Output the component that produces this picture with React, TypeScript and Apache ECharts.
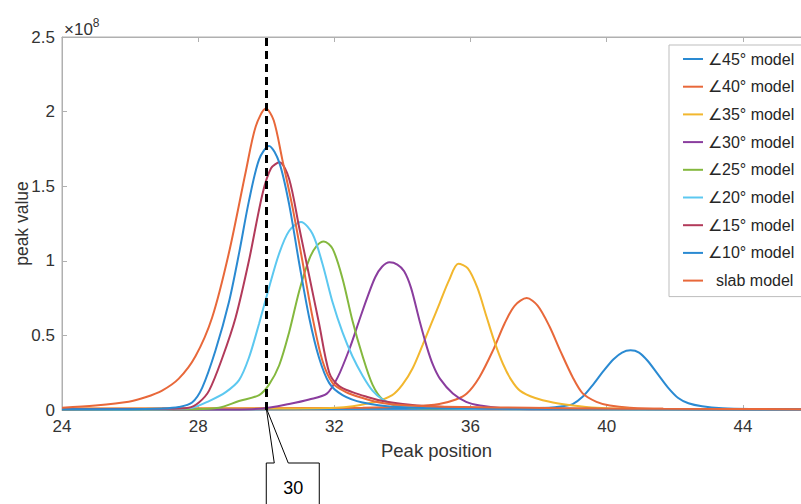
import React, { useEffect, useRef } from "react";
import * as echarts from "echarts";

const legendNames = ["∠45° model", "∠40° model", "∠35° model", "∠30° model", "∠25° model", "∠20° model", "∠15° model", "∠10° model", "slab model"];
const colors = ["#2A8AD2", "#E8683A", "#F2B72E", "#8A3D9E", "#84B83E", "#5CC8F0", "#B23A5A", "#2A8AD2", "#E8683A"];

// peak value in units of 1e8
const deg45: [number, number][] = [[24, 0.005], [36.75, 0.008], [38.3, 0.015], [38.7, 0.025], [39.0, 0.04], [39.3, 0.09], [39.6, 0.17], [39.9, 0.26], [40.2, 0.34], [40.45, 0.385], [40.7, 0.4], [40.95, 0.385], [41.2, 0.33], [41.5, 0.24], [41.8, 0.15], [42.1, 0.08], [42.4, 0.045], [42.8, 0.025], [43.4, 0.012], [44.2, 0.007], [46, 0.005]];
const deg40: [number, number][] = [[24, 0.01], [32.83, 0.015], [34.3, 0.025], [35.08, 0.04], [35.57, 0.07], [35.89, 0.11], [36.26, 0.22], [36.66, 0.4], [37.0, 0.58], [37.3, 0.7], [37.65, 0.75], [37.97, 0.7], [38.32, 0.56], [38.63, 0.4], [39.0, 0.22], [39.3, 0.11], [39.7, 0.055], [40.09, 0.03], [40.68, 0.015], [41.66, 0.008], [46, 0.005]];
const deg35: [number, number][] = [[24, 0.008], [29.89, 0.01], [32.04, 0.015], [33.12, 0.05], [33.7, 0.1], [34.0, 0.17], [34.3, 0.28], [34.6, 0.44], [34.85, 0.58], [35.1, 0.72], [35.37, 0.87], [35.64, 0.98], [35.92, 0.95], [36.2, 0.82], [36.47, 0.625], [36.7, 0.46], [36.95, 0.31], [37.2, 0.2], [37.45, 0.13], [37.9, 0.08], [38.42, 0.05], [39.01, 0.03], [39.7, 0.015], [40.68, 0.008], [46, 0.005]];
const deg30: [number, number][] = [[24, 0.002], [28.9, 0.004], [29.89, 0.01], [30.67, 0.04], [31.26, 0.07], [31.78, 0.11], [32.1, 0.22], [32.46, 0.42], [32.73, 0.6], [32.96, 0.75], [33.2, 0.89], [33.4, 0.96], [33.62, 0.99], [33.85, 0.975], [34.05, 0.93], [34.25, 0.82], [34.5, 0.6], [34.72, 0.42], [34.9, 0.3], [35.1, 0.21], [35.48, 0.11], [35.87, 0.055], [36.28, 0.03], [36.95, 0.012], [37.73, 0.005], [46, 0.002]];
const deg25: [number, number][] = [[24, 0.002], [27.92, 0.005], [28.61, 0.015], [29.2, 0.06], [29.79, 0.1], [30.08, 0.17], [30.38, 0.3], [30.67, 0.52], [30.97, 0.8], [31.26, 1.01], [31.48, 1.1], [31.69, 1.13], [31.95, 1.08], [32.24, 0.88], [32.53, 0.6], [32.83, 0.36], [33.12, 0.17], [33.42, 0.07], [33.81, 0.03], [34.79, 0.01], [46, 0.003]];
const deg20: [number, number][] = [[24, 0.003], [26.94, 0.005], [27.82, 0.015], [28.32, 0.06], [28.81, 0.12], [29.2, 0.2], [29.49, 0.35], [29.79, 0.58], [30.08, 0.82], [30.38, 1.05], [30.67, 1.2], [31.02, 1.26], [31.36, 1.18], [31.65, 0.98], [31.95, 0.72], [32.24, 0.52], [32.53, 0.36], [32.83, 0.23], [33.12, 0.13], [33.42, 0.07], [33.81, 0.035], [34.79, 0.015], [36.75, 0.006], [46, 0.003]];
const deg15: [number, number][] = [[24, 0.005], [26.94, 0.008], [27.72, 0.015], [28.02, 0.05], [28.32, 0.13], [28.71, 0.35], [29.1, 0.62], [29.49, 1.0], [29.89, 1.45], [30.14, 1.62], [30.39, 1.66], [30.67, 1.55], [30.97, 1.22], [31.26, 0.9], [31.55, 0.58], [31.85, 0.25], [32.14, 0.16], [32.53, 0.12], [32.93, 0.09], [33.42, 0.06], [34.01, 0.04], [34.79, 0.025], [36.75, 0.01], [46, 0.005]];
const deg10: [number, number][] = [[24, 0.005], [25.96, 0.005], [26.94, 0.01], [27.43, 0.02], [27.82, 0.05], [28.12, 0.15], [28.51, 0.4], [28.9, 0.72], [29.2, 1.05], [29.49, 1.4], [29.79, 1.68], [30.08, 1.77], [30.38, 1.66], [30.67, 1.38], [30.97, 0.98], [31.26, 0.62], [31.55, 0.35], [31.85, 0.18], [32.24, 0.1], [32.83, 0.05], [33.81, 0.02], [35.77, 0.01], [46, 0.005]];
const slab: [number, number][] = [[24, 0.015], [24.98, 0.03], [25.96, 0.055], [26.45, 0.085], [26.94, 0.13], [27.43, 0.21], [27.92, 0.36], [28.41, 0.62], [28.9, 1.05], [29.4, 1.6], [29.69, 1.9], [29.99, 2.02], [30.22, 1.94], [30.47, 1.68], [30.77, 1.36], [31.06, 1.0], [31.36, 0.62], [31.65, 0.33], [31.95, 0.18], [32.34, 0.12], [32.83, 0.08], [33.32, 0.05], [33.81, 0.035], [34.79, 0.025], [35.77, 0.02], [37.73, 0.015], [39.7, 0.01], [41.66, 0.008], [46, 0.005]];

const seriesData = [deg45, deg40, deg35, deg30, deg25, deg20, deg15, deg10, slab];
const markerX = 30;
const markerLabel = "30";
const yTicks = ["0", "0.5", "1", "1.5", "2", "2.5"];

const FONT = "Liberation Sans, Arial, Helvetica, sans-serif";

export default function App() {
  const ref = useRef<HTMLDivElement>(null);
  useEffect(() => {
    if (!ref.current) return;
    const chart = echarts.init(ref.current, null, { renderer: "svg" });
    const axisColor = "#b0b0b0";
    const labelColor = "#333333";
    const series: any[] = seriesData.map((d, i) => ({
      name: legendNames[i],
      type: "line",
      data: d,
      smooth: 0.3,
      showSymbol: false,
      symbol: "none",
      lineStyle: { color: colors[i], width: 2 },
      itemStyle: { color: colors[i] },
      emphasis: { disabled: true },
      silent: true,
      z: 2,
    }));
    series[series.length - 1].markLine = {
      silent: true,
      symbol: "none",
      label: { show: false },
      lineStyle: { color: "#000", type: [8, 5], width: 3 },
      data: [{ xAxis: markerX }],
      z: 5,
    };
    chart.setOption({
      animation: false,
      textStyle: { fontFamily: FONT },
      grid: { left: 62, top: 37, width: 749, height: 373, outerBoundsMode: "none", containLabel: false, show: true, borderColor: axisColor, borderWidth: 1 },
      legend: {
        data: legendNames,
        orient: "vertical",
        left: 669,
        top: 45,
        padding: [6, 40, 8, 14],
        itemGap: 11.7,
        itemWidth: 20,
        itemHeight: 16,
        icon: "path://M0,7 L20,7 L20,9 L0,9 Z",
        borderColor: "#bdbdbd",
        borderWidth: 1,
        backgroundColor: "#fff",
        textStyle: {
          fontSize: 16,
          lineHeight: 16,
          color: "#262626",
          fontFamily: FONT,
          rich: { s: { fontSize: 16, lineHeight: 16, color: "#262626", padding: [0, 0, 0, 8], fontFamily: FONT } },
        },
        formatter: (name: string) => (name === "slab model" ? "{s|" + name + "}" : name),
      },
      xAxis: [
        {
          type: "value",
          min: 24,
          max: 46,
          interval: 4,
          name: "Peak position",
          nameLocation: "middle",
          nameGap: 31,
          nameMoveOverlap: false,
          nameTextStyle: { fontSize: 18.5, color: labelColor, fontFamily: FONT },
          axisLine: { show: true, lineStyle: { color: axisColor } },
          axisTick: { show: true, inside: true, length: 5, lineStyle: { color: axisColor } },
          axisLabel: { fontSize: 17, color: labelColor, margin: 8, showMaxLabel: false, fontFamily: FONT },
          splitLine: { show: false },
        },
        {
          type: "value",
          position: "top",
          min: 24,
          max: 46,
          interval: 4,
          axisLine: { show: true, lineStyle: { color: axisColor } },
          axisTick: { show: true, inside: true, length: 5, lineStyle: { color: axisColor } },
          axisLabel: { show: false },
          splitLine: { show: false },
        },
      ],
      yAxis: {
        type: "value",
        min: 0,
        max: 2.5,
        interval: 0.5,
        name: "peak value",
        nameLocation: "middle",
        nameGap: 31,
        nameMoveOverlap: false,
        nameTextStyle: { fontSize: 17.5, color: labelColor, fontFamily: FONT },
        axisLine: { show: true, lineStyle: { color: axisColor } },
        axisTick: { show: true, inside: true, length: 5, lineStyle: { color: axisColor } },
        axisLabel: {
          fontSize: 17,
          color: labelColor,
          margin: 7,
          fontFamily: FONT,
          formatter: (v: number) => yTicks[Math.round(v / 0.5)] ?? String(v),
        },
        splitLine: { show: false },
      },
      series,
    });

    const tip = chart.convertToPixel({ xAxisIndex: 0, yAxisIndex: 0 }, [markerX, 0]) as number[];
    const tx = tip[0];
    const ty = tip[1] - 2;
    chart.setOption({
      graphic: [
        {
          type: "text",
          left: 64,
          top: 17,
          style: {
            text: "{a|×10}{b|8}",
            rich: {
              a: { fontSize: 17, fill: labelColor, fontFamily: FONT, verticalAlign: "bottom" },
              b: { fontSize: 12, fill: labelColor, fontFamily: FONT, verticalAlign: "top", padding: [0, 0, 9, 0] },
            },
          },
        },
        {
          type: "polygon",
          shape: {
            points: [
              [tx, ty + 55],
              [tx + 8, ty + 55],
              [tx, ty],
              [tx + 22, ty + 55],
              [tx + 53, ty + 55],
              [tx + 53, ty + 120],
              [tx, ty + 120],
            ],
          },
          style: { fill: "#fff", stroke: "#000", lineWidth: 1 },
          z: 10,
        },
        {
          type: "text",
          x: tx + 27,
          y: ty + 80,
          style: { text: markerLabel, fontSize: 18, fill: "#000", fontFamily: FONT, align: "center", verticalAlign: "middle" },
          z: 11,
        },
      ],
    });

    return () => chart.dispose();
  }, []);
  return <div ref={ref} style={{ width: 801, height: 504, position: "absolute", left: 0, top: 0 }} />;
}
